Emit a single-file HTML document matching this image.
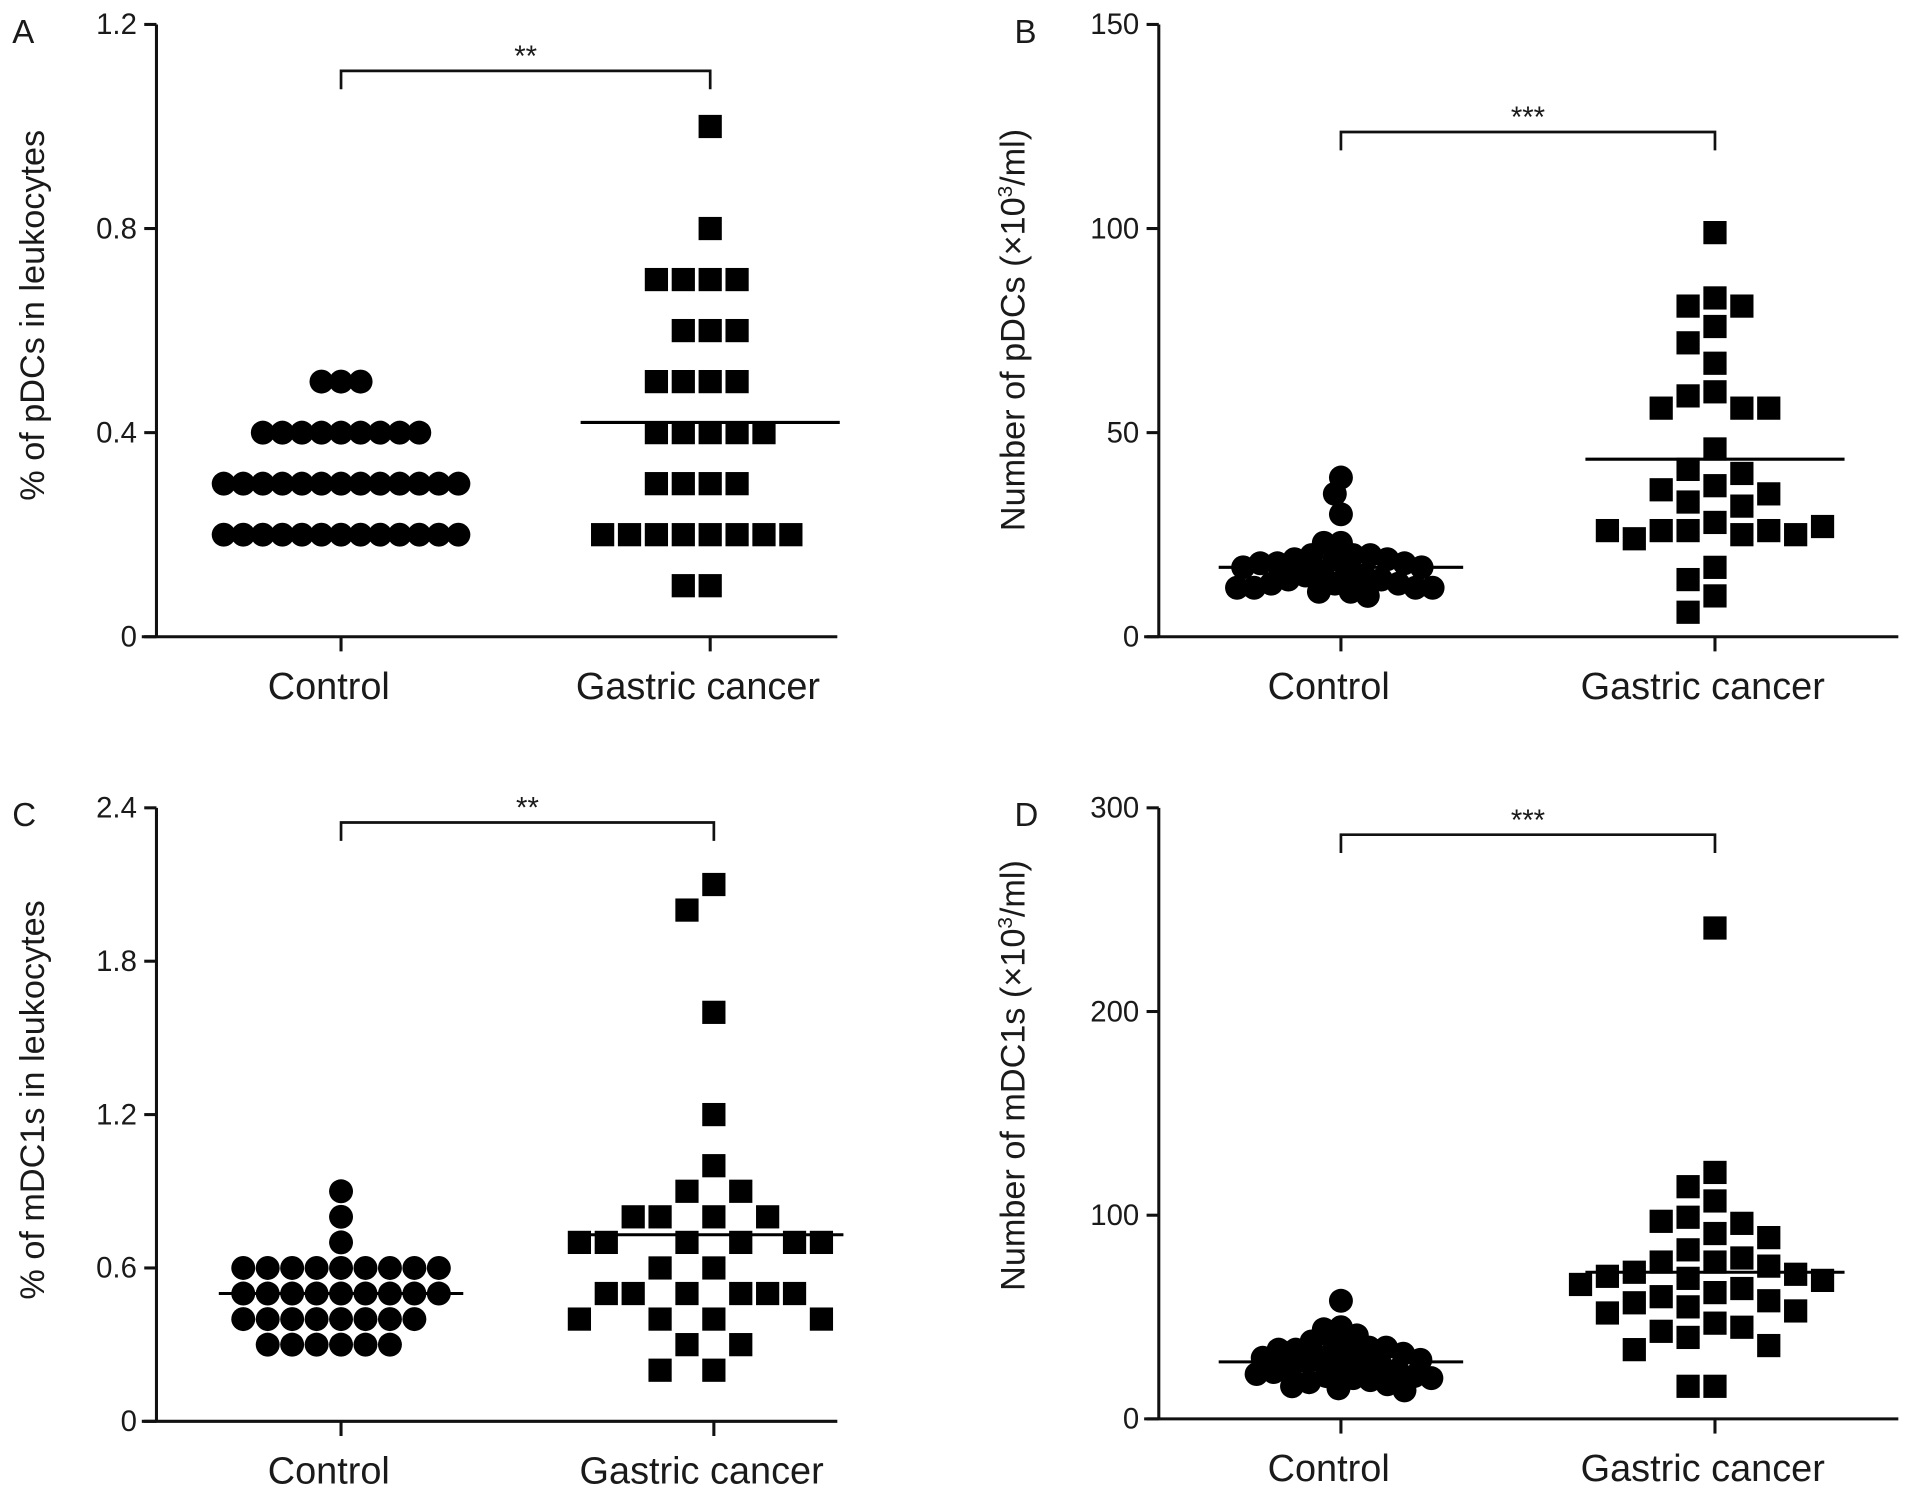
<!DOCTYPE html>
<html><head><meta charset="utf-8"><style>
html,body{margin:0;padding:0;background:#fff}
svg{display:block}
text{font-family:"Liberation Sans",Arial,sans-serif;fill:#1a1a1a}
</style></head><body>
<svg id="fig" width="1913" height="1491" viewBox="0 0 1565 1220" preserveAspectRatio="none" xmlns="http://www.w3.org/2000/svg"></svg>
<script>
// ---- data ----
const categories = ["Control", "Gastric cancer"];
const aControl = [0.5,0.5,0.5, 0.4,0.4,0.4,0.4,0.4,0.4,0.4,0.4,0.4, 0.3,0.3,0.3,0.3,0.3,0.3,0.3,0.3,0.3,0.3,0.3,0.3,0.3, 0.2,0.2,0.2,0.2,0.2,0.2,0.2,0.2,0.2,0.2,0.2,0.2,0.2];
const aGastric = [1.0,0.8,0.7,0.7,0.7,0.7,0.6,0.6,0.6,0.5,0.5,0.5,0.5,0.4,0.4,0.4,0.4,0.4,0.3,0.3,0.3,0.3,0.2,0.2,0.2,0.2,0.2,0.2,0.2,0.2,0.1,0.1];
const aLines = [0.30, 0.42];
const aTicks = [0, 0.4, 0.8, 1.2];
const bControl = [39,35,30,23,23,20,20,20,19,19,19,18,18,18,17,17,16,16,15,15,14,14,13,13,13,12,12,12,12,11,11,10];
const bGastric = [99,83,81,81,76,72,67,60,59,56,56,56,46,41,40,37,36,35,33,32,28,26,26,26,25,24,25,26,27,17,14,10,6];
const bLines = [17, 43.5];
const bTicks = [0, 50, 100, 150];
const cControl = [0.9,0.8,0.7, 0.6,0.6,0.6,0.6,0.6,0.6,0.6,0.6,0.6, 0.5,0.5,0.5,0.5,0.5,0.5,0.5,0.5,0.5, 0.4,0.4,0.4,0.4,0.4,0.4,0.4,0.4, 0.3,0.3,0.3,0.3,0.3,0.3];
const cGastric = [2.1,2.0,1.6,1.2,1.0,0.9,0.9,0.8,0.8,0.8,0.8,0.7,0.7,0.7,0.7,0.7,0.7,0.6,0.6,0.5,0.5,0.5,0.5,0.5,0.5,0.4,0.4,0.4,0.4,0.3,0.3,0.2,0.2];
const cLines = [0.5, 0.73];
const cTicks = [0, 0.6, 1.2, 1.8, 2.4];
const dControl = [58,45,44,41,38,37,35,35,34,34,33,32,30,30,29,28,27,27,26,25,24,23,22,21,21,20,20,19,18,17,16,15,14];
const dGastric = [241,121,114,107,99,96,97,91,89,83,79,77,77,75,72,71,70,69,68,66,64,62,60,58,57,55,53,52,47,45,43,40,36,34,16,16];
const dLines = [28, 72];
const dTicks = [0, 100, 200, 300];

const NS = "http://www.w3.org/2000/svg";
const svg = document.getElementById("fig");
function mk(tag, attrs, parent){
  const e = document.createElementNS(NS, tag);
  for (const k in attrs) e.setAttribute(k, attrs[k]);
  (parent||svg).appendChild(e);
  return e;
}

function panel(cfg){
  const g = mk("g", {});
  
  
  const yS = v => cfg.y0 - v / cfg.max * (cfg.y0 - cfg.yTop);
  const xS = i => cfg.cx[i];
  const L = mk("text", {x: cfg.ax - 118, y: cfg.yTop + 15, "font-size": 27}, g);
  L.textContent = cfg.letter;
  
  
  const ya = mk("line", {x1: cfg.ax, y1: cfg.yTop, x2: cfg.ax, y2: cfg.y0, stroke: "#111", "stroke-width": 2.5}, g);
  
  
  const xa = mk("line", {x1: cfg.ax - 12, y1: cfg.y0, x2: cfg.xEnd, y2: cfg.y0, stroke: "#111", "stroke-width": 2.5}, g);
  
  
  cfg.ticks.forEach(t => {
    const y = yS(t);
    mk("line", {x1: cfg.ax - 10, y1: y, x2: cfg.ax, y2: y, stroke: "#111", "stroke-width": 2.5}, g);
    const tx = mk("text", {x: cfg.ax - 16, y: y + 8, "font-size": 24, "text-anchor": "end"}, g);
    tx.textContent = String(t);
    
    
  });
  categories.forEach((c, i) => {
    mk("line", {x1: xS(i), y1: cfg.y0, x2: xS(i), y2: cfg.y0 + 12, stroke: "#111", "stroke-width": 2.5}, g);
    const tx = mk("text", {x: xS(i) - 10, y: cfg.y0 + 51, "font-size": 31, "text-anchor": "middle"}, g);
    tx.textContent = c;
    
    
  });
  const yt = mk("text", {x: 0, y: 0, "font-size": 28, "text-anchor": "middle", transform: `translate(${cfg.titleX},${cfg.titleY}) rotate(-90)`}, g);
  yt.innerHTML = cfg.title;
  
  
  const by = cfg.bracketY;
  const br = mk("path", {d: `M${xS(0)},${by+15} L${xS(0)},${by} L${xS(1)},${by} L${xS(1)},${by+15}`, fill: "none", stroke: "#111", "stroke-width": 2.2}, g);
  
  
  const st = mk("text", {x: (xS(0)+xS(1))/2, y: by - 4, "font-size": 24, "text-anchor": "middle"}, g);
  st.textContent = cfg.stars;
  
  
  [cfg.s0, cfg.s1].forEach((vals, gi) => {
    const placed = [];
    const minD = gi === 0 ? cfg.minD0 : cfg.minD1;
    vals.forEach(v => {
      const y = yS(v);
      let x = xS(gi);
      for (let k = 0; k < 800; k++) {
        const off = (k % 2 === 0 ? 1 : -1) * Math.ceil(k / 2);
        const cx = xS(gi) + off;
        const ok = placed.every(p => {
          if (gi === 1) return Math.abs(p[0]-cx) >= minD || Math.abs(p[1]-y) >= minD;
          return Math.hypot(p[0]-cx, p[1]-y) >= minD;
        });
        if (ok) { x = cx; break; }
      }
      placed.push([x, y]);
      let m;
      if (gi === 0) {
        m = mk("circle", {cx: x, cy: y, r: 9.8, fill: "#000"}, g);
        
      } else {
        m = mk("rect", {x: x - 9.5, y: y - 9.5, width: 19, height: 19, fill: "#000"}, g);
        
      }
      
    });
  });
  cfg.lines.forEach((v, i) => {
    const w = i === 0 ? 200 : 212;
    const ln = mk("line", {x1: xS(i) - w/2, y1: yS(v), x2: xS(i) + w/2, y2: yS(v), stroke: "#000", "stroke-width": 2.5}, g);
    
    
  });
}

panel({letter:"A", ax:128, yTop:20, y0:521, xEnd:685, max:1.2, cx:[279,581], ticks:aTicks,
  s0:aControl, s1:aGastric, lines:aLines, minD0:16, minD1:22, bracketY:58, stars:"**",
  titleX:36, titleY:258, title:"% of  pDCs in leukocytes"});
panel({letter:"B", ax:948, yTop:20, y0:521, xEnd:1553, max:150, cx:[1097,1403], ticks:bTicks,
  s0:bControl, s1:bGastric, lines:bLines, minD0:14, minD1:22, bracketY:108, stars:"***",
  titleX:838, titleY:270, title:"Number of pDCs (×10<tspan dy='-10' font-size='17'>3</tspan><tspan dy='10'>/ml)</tspan>"});
panel({letter:"C", ax:128, yTop:661, y0:1163, xEnd:685, max:2.4, cx:[279,584], ticks:cTicks,
  s0:cControl, s1:cGastric, lines:cLines, minD0:20, minD1:22, bracketY:673, stars:"**",
  titleX:36, titleY:900, title:"% of  mDC1s in leukocytes"});
panel({letter:"D", ax:948, yTop:661, y0:1161, xEnd:1553, max:300, cx:[1097,1403], ticks:dTicks,
  s0:dControl, s1:dGastric, lines:dLines, minD0:14, minD1:22, bracketY:683, stars:"***",
  titleX:838, titleY:880, title:"Number of mDC1s (×10<tspan dy='-10' font-size='17'>3</tspan><tspan dy='10'>/ml)</tspan>"});
</script>
</body></html>
